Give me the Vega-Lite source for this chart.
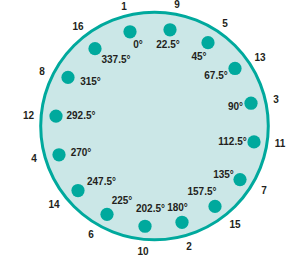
{
  "$schema": "https://vega.github.io/schema/vega-lite/v6.json",
  "width": 304,
  "height": 257,
  "autosize": {"type": "fit", "contains": "padding"},
  "padding": 0,
  "background": "white",
  "config": {"view": {"stroke": null}},
  "datasets": {
    "ring": [{"cx": 154.5, "cy": 125}],
    "dots": [
      {"deg": "0°", "x": 130, "y": 30, "lx": 138, "ly": 43, "num": "1", "nx": 124, "ny": 5},
      {"deg": "22.5°", "x": 170, "y": 28, "lx": 168, "ly": 43, "num": "9", "nx": 177, "ny": 3},
      {"deg": "45°", "x": 208, "y": 41, "lx": 199, "ly": 55, "num": "5", "nx": 225, "ny": 22},
      {"deg": "67.5°", "x": 235, "y": 67, "lx": 216, "ly": 75, "num": "13", "nx": 260, "ny": 56},
      {"deg": "90°", "x": 251, "y": 102, "lx": 235.5, "ly": 106, "num": "3", "nx": 276, "ny": 99},
      {"deg": "112.5°", "x": 254, "y": 141, "lx": 232.5, "ly": 141, "num": "11", "nx": 280, "ny": 143},
      {"deg": "135°", "x": 240, "y": 179, "lx": 223.5, "ly": 174, "num": "7", "nx": 264, "ny": 190},
      {"deg": "157.5°", "x": 215, "y": 206, "lx": 202, "ly": 191, "num": "15", "nx": 235, "ny": 225},
      {"deg": "180°", "x": 182, "y": 222, "lx": 177.5, "ly": 208, "num": "2", "nx": 189, "ny": 247},
      {"deg": "202.5°", "x": 145, "y": 226, "lx": 150.5, "ly": 209, "num": "10", "nx": 143, "ny": 252},
      {"deg": "225°", "x": 107, "y": 214, "lx": 122, "ly": 201, "num": "6", "nx": 91, "ny": 235},
      {"deg": "247.5°", "x": 78, "y": 190, "lx": 101.5, "ly": 181, "num": "14", "nx": 54, "ny": 205},
      {"deg": "270°", "x": 59, "y": 154, "lx": 81, "ly": 152, "num": "4", "nx": 34, "ny": 158},
      {"deg": "292.5°", "x": 56, "y": 115, "lx": 81, "ly": 115, "num": "12", "nx": 28.5, "ny": 115},
      {"deg": "315°", "x": 68, "y": 76, "lx": 90.5, "ly": 81, "num": "8", "nx": 42, "ny": 71},
      {"deg": "337.5°", "x": 95, "y": 47, "lx": 116, "ly": 58, "num": "16", "nx": 78, "ny": 25}
    ]
  },
  "layer": [
    {
      "data": {"name": "ring"},
      "mark": {"type": "point", "shape": "circle", "filled": false, "size": 51800, "fill": "#cbe7e7", "fillOpacity": 1, "stroke": "#00a99d", "strokeWidth": 3, "opacity": 1},
      "encoding": {
        "x": {"field": "cx", "type": "quantitative", "scale": {"domain": [0, 304], "nice": false, "zero": false}, "axis": null},
        "y": {"field": "cy", "type": "quantitative", "scale": {"domain": [0, 257], "nice": false, "zero": false, "reverse": true}, "axis": null}
      }
    },
    {
      "data": {"name": "dots"},
      "mark": {"type": "point", "shape": "circle", "filled": true, "size": 175, "color": "#00a99d", "opacity": 1},
      "encoding": {
        "x": {"field": "x", "type": "quantitative", "scale": {"domain": [0, 304], "nice": false, "zero": false}, "axis": null},
        "y": {"field": "y", "type": "quantitative", "scale": {"domain": [0, 257], "nice": false, "zero": false, "reverse": true}, "axis": null}
      }
    },
    {
      "data": {"name": "dots"},
      "mark": {"type": "text", "font": "Liberation Sans", "fontWeight": "bold", "fontSize": 10, "color": "#231f20", "align": "center", "baseline": "middle"},
      "encoding": {
        "x": {"field": "lx", "type": "quantitative", "scale": {"domain": [0, 304], "nice": false, "zero": false}, "axis": null},
        "y": {"field": "ly", "type": "quantitative", "scale": {"domain": [0, 257], "nice": false, "zero": false, "reverse": true}, "axis": null},
        "text": {"field": "deg"}
      }
    },
    {
      "data": {"name": "dots"},
      "mark": {"type": "text", "font": "Liberation Sans", "fontWeight": "bold", "fontSize": 10, "color": "#231f20", "align": "center", "baseline": "middle"},
      "encoding": {
        "x": {"field": "nx", "type": "quantitative", "scale": {"domain": [0, 304], "nice": false, "zero": false}, "axis": null},
        "y": {"field": "ny", "type": "quantitative", "scale": {"domain": [0, 257], "nice": false, "zero": false, "reverse": true}, "axis": null},
        "text": {"field": "num"}
      }
    }
  ]
}
